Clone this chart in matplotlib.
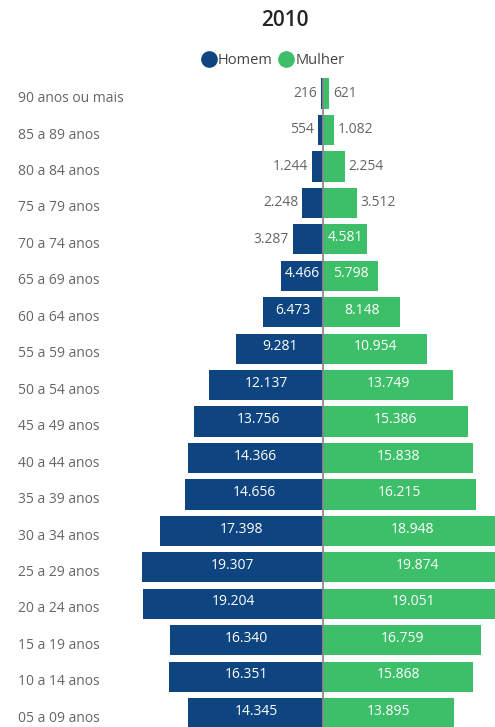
import matplotlib
matplotlib.use("Agg")
import matplotlib.pyplot as plt
import matplotlib.transforms as mtransforms
from matplotlib.lines import Line2D

plt.rcParams['font.family'] = ['Open Sans', 'DejaVu Sans']

# dados (milhares), do grupo mais velho para o mais novo
faixas = ["90 anos ou mais", "85 a 89 anos", "80 a 84 anos", "75 a 79 anos",
          "70 a 74 anos", "65 a 69 anos", "60 a 64 anos", "55 a 59 anos",
          "50 a 54 anos", "45 a 49 anos", "40 a 44 anos", "35 a 39 anos",
          "30 a 34 anos", "25 a 29 anos", "20 a 24 anos", "15 a 19 anos",
          "10 a 14 anos", "05 a 09 anos"]
homem = [216, 554, 1244, 2248, 3287, 4466, 6473, 9281, 12137, 13756,
         14366, 14656, 17398, 19307, 19204, 16340, 16351, 14345]
mulher = [621, 1082, 2254, 3512, 4581, 5798, 8148, 10954, 13749, 15386,
          15838, 16215, 18948, 19874, 19051, 16759, 15868, 13895]

cor_h = "#0E4580"
cor_m = "#3DBE68"
cinza = "#666666"

W, H = 495, 727
fig = plt.figure(figsize=(W / 100, H / 100), dpi=100)

# eixo ocupa toda a largura; o zero fica em x=323.5 px
px_por_mil = 9.42
x0_px = 323.5
top_px, bot_px = 78, 727
ax = fig.add_axes([0, 0, 1, (H - top_px) / H])
ax.set_xlim(-x0_px / px_por_mil * 1000, (W - x0_px) / px_por_mil * 1000)
passo = 36.45
c0 = 93.5
ax.set_ylim((bot_px - c0) / passo, (top_px - c0) / passo)
ax.axis("off")

ys = list(range(len(faixas)))
ax.barh(ys, [-v for v in homem], height=0.83, color=cor_h)
ax.barh(ys, mulher, height=0.83, color=cor_m)
ax.axvline(0, color="#8a8a8a", lw=1.3, zorder=3)


def fmt(v):
    return f"{v:,}".replace(",", ".")


lim_fora = 4000
fs_val = 10
for y, h, m in zip(ys, homem, mulher):
    if h < lim_fora:
        ax.text(-h - 420, y, fmt(h), ha="right", va="center", fontsize=fs_val, color=cinza)
    else:
        ax.text(-h / 2, y - 0.05, fmt(h), ha="center", va="center", fontsize=fs_val, color="white")
    if m < lim_fora:
        ax.text(m + 420, y, fmt(m), ha="left", va="center", fontsize=fs_val, color=cinza)
    else:
        ax.text(m / 2, y - 0.05, fmt(m), ha="center", va="center", fontsize=fs_val, color="white")

trans = mtransforms.blended_transform_factory(fig.transFigure, ax.transData)
for y, nome in zip(ys, faixas):
    ax.text(18 / W, y + 0.14, nome, ha="left", va="center", fontsize=10,
            color=cinza, transform=trans)

fig.text(285 / W, 1 - 21 / H, "2010", ha="center", va="center", fontsize=15,
         fontweight="semibold", color="#252525")

handles = [Line2D([], [], marker="o", ls="", ms=11, color=cor_h),
           Line2D([], [], marker="o", ls="", ms=11, color=cor_m)]
fig.legend(handles, ["Homem", "Mulher"], loc="center", bbox_to_anchor=(273 / W, 1 - 61 / H),
           ncol=2, frameon=False, fontsize=10.5, handletextpad=0.15, columnspacing=0.4,
           handlelength=1.0, labelcolor="#444444")

fig.savefig("out.png", dpi=100)
